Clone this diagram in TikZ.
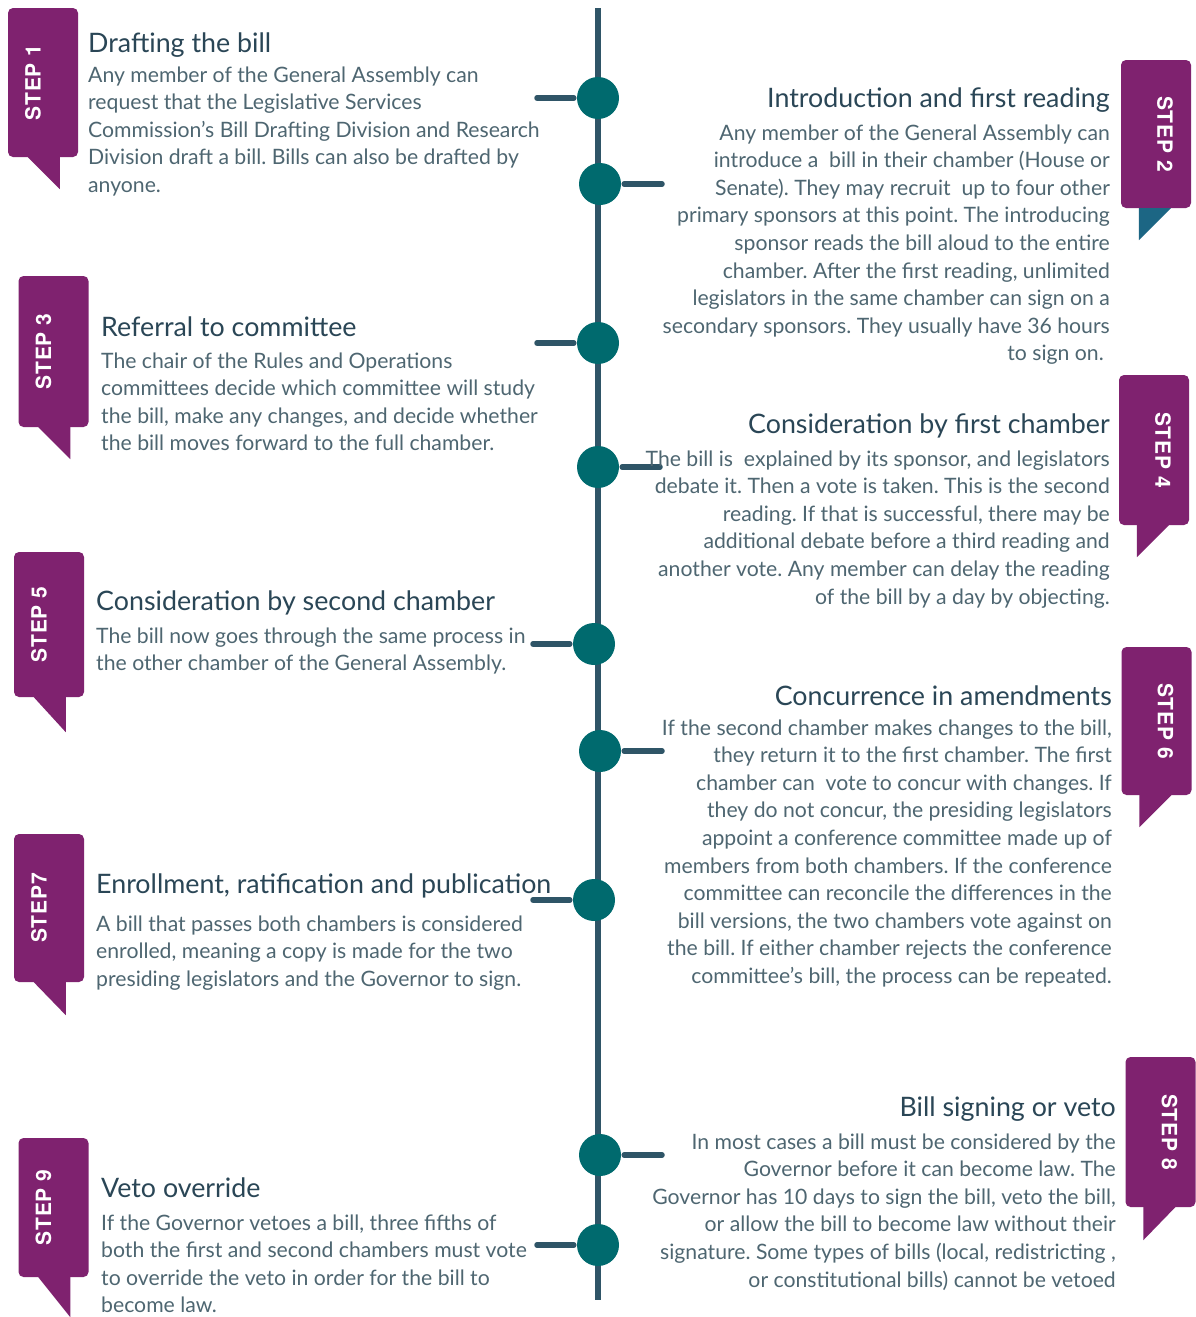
\documentclass[tikz,border=0pt]{standalone}
\usepackage{fontspec}
\setmainfont{Lato}
\newfontfamily\flagfont[LetterSpace=4]{TeX Gyre Heros}

\definecolor{flagpurple}{HTML}{7F226F}
\definecolor{flagteal}{HTML}{1C6684}
\definecolor{dotteal}{HTML}{006A6E}
\definecolor{spinecol}{HTML}{2F5567}
\definecolor{headcol}{HTML}{2A4656}
\definecolor{bodycol}{HTML}{4E6671}

\tikzset{
  stepflag/.style={fill=flagpurple, rounded corners=5pt, inner sep=0pt,
    minimum width=70pt},
  steplabel/.style={text=white, inner sep=0pt,
    font=\flagfont\bfseries\fontsize{21}{24}\selectfont},
  stepdot/.style={circle, fill=dotteal, minimum size=42pt, inner sep=0pt},
  stepstub/.style={spinecol, line width=5.5pt, line cap=round, shorten >=3pt},
  steptitle/.style={text=headcol, inner sep=0pt,
    font=\fontsize{26.8}{32}\selectfont},
  steptext/.style={text=bodycol, inner sep=0pt,
    font=\fontsize{21.2}{27.6}\selectfont\frenchspacing},
}

\begin{document}
\begin{tikzpicture}[x=1pt, y=-1pt]
    \fill [white] (0,0) rectangle (1195,1317);
    \useasboundingbox (0,0) rectangle (1195,1317);

    % time line
    \coordinate (top) at (598,8);
    \coordinate (bot) at (598,1300);
    \draw [spinecol, line width=6pt] (top) -- (bot);

    \node [stepdot] (c1) at (598,98) {};
    \node [stepdot] (c2) at (600,184) {};
    \node [stepdot] (c3) at (598,343) {};
    \node [stepdot] (c4) at (598,467) {};
    \node [stepdot] (c5) at (594,644) {};
    \node [stepdot] (c6) at (600,751) {};
    \node [stepdot] (c7) at (594,900) {};
    \node [stepdot] (c8) at (600,1155) {};
    \node [stepdot] (c9) at (598,1245) {};
    \coordinate (e1) at (537,98);
    \coordinate (e2) at (662,184);
    \coordinate (e3) at (537,343);
    \coordinate (e4) at (660,467);
    \coordinate (e5) at (533,644);
    \coordinate (e6) at (662,751);
    \coordinate (e7) at (533,900);
    \coordinate (e8) at (662,1155);
    \coordinate (e9) at (537,1245);
    \draw [stepstub] (e1) -- (c1);
    \draw [stepstub] (e2) -- (c2);
    \draw [stepstub] (e3) -- (c3);
    \draw [stepstub] (e4) -- (c4);
    \draw [stepstub] (e5) -- (c5);
    \draw [stepstub] (e6) -- (c6);
    \draw [stepstub] (e7) -- (c7);
    \draw [stepstub] (e8) -- (c8);
    \draw [stepstub] (e9) -- (c9);

    % flags, left side
    \node [stepflag, minimum height=149pt] (f1) at (43,82.5) {};
    \fill [flagpurple] ([xshift=20pt]f1.south west) -- ++(32,0) -- ++(0,32) -- cycle;
    \node [steplabel, rotate=90] (l1) at ([xshift=-10pt]f1.center) {STEP 1};

    \node [stepflag, minimum height=151pt] (f3) at (53.5,351.5) {};
    \fill [flagpurple] ([xshift=20pt]f3.south west) -- ++(32,0) -- ++(0,32) -- cycle;
    \node [steplabel, rotate=90] (l3) at ([xshift=-10pt]f3.center) {STEP 3};

    \node [stepflag, minimum height=145pt] (f5) at (49,624.5) {};
    \fill [flagpurple] ([xshift=20pt]f5.south west) -- ++(32,0) -- ++(0,35) -- cycle;
    \node [steplabel, rotate=90] (l5) at ([xshift=-10pt]f5.center) {STEP 5};

    \node [stepflag, minimum height=148pt] (f7) at (49,908) {};
    \fill [flagpurple] ([xshift=20pt]f7.south west) -- ++(32,0) -- ++(0,33) -- cycle;
    \node [steplabel, rotate=90] (l7) at ([xshift=-10pt]f7.center) {STEP7};

    \node [stepflag, minimum height=139pt] (f9) at (53.5,1207.5) {};
    \fill [flagpurple] ([xshift=20pt]f9.south west) -- ++(32,0) -- ++(0,40) -- cycle;
    \node [steplabel, rotate=90] (l9) at ([xshift=-10pt]f9.center) {STEP 9};

    % flags, right side
    \node [stepflag, minimum height=148pt] (f2) at (1156,134) {};
    \fill [flagteal] ([xshift=18pt]f2.south west) -- ++(32,0) -- ++(-32,32) -- cycle;
    \node [steplabel, rotate=-90] (l2) at ([xshift=9pt]f2.center) {STEP 2};

    \node [stepflag, minimum height=150pt] (f4) at (1154,450) {};
    \fill [flagpurple] ([xshift=18pt]f4.south west) -- ++(32,0) -- ++(-32,32) -- cycle;
    \node [steplabel, rotate=-90] (l4) at ([xshift=9pt]f4.center) {STEP 4};

    \node [stepflag, minimum height=148pt] (f6) at (1156.5,721) {};
    \fill [flagpurple] ([xshift=18pt]f6.south west) -- ++(32,0) -- ++(-32,32) -- cycle;
    \node [steplabel, rotate=-90] (l6) at ([xshift=9pt]f6.center) {STEP 6};

    \node [stepflag, minimum height=150pt] (f8) at (1160.5,1132) {};
    \fill [flagpurple] ([xshift=18pt]f8.south west) -- ++(32,0) -- ++(-32,33) -- cycle;
    \node [steplabel, rotate=-90] (l8) at ([xshift=9pt]f8.center) {STEP 8};

    % step 1
    \node [steptitle, anchor=base west] (t1) at (88,52) {Drafting the bill};
    \node [steptext, anchor=base west] (b1) at (88,82) {%
      \begin{tabular}[t]{@{}l@{}}
        Any member of the General Assembly can\\
        request that the Legislative Services\\
        Commission's Bill Drafting Division and Research\\
        Division draft a bill. Bills can also be drafted by\\
        anyone.
      \end{tabular}};

    % step 2
    \node [steptitle, anchor=base east] (t2) at (1110,107) {Introduction and first reading};
    \node [steptext, anchor=base east] (b2) at (1110,140) {%
      \begin{tabular}[t]{@{}r@{}}
        Any member of the General Assembly can\\
        introduce a\ \ bill in their chamber (House or\\
        Senate). They may recruit\ \ up to four other\\
        primary sponsors at this point. The introducing\\
        sponsor reads the bill aloud to the entire\\
        chamber. After the first reading, unlimited\\
        legislators in the same chamber can sign on a\\
        secondary sponsors. They usually have 36 hours\\
        to sign on.\hspace{6pt}
      \end{tabular}};

    % step 3
    \node [steptitle, anchor=base west] (t3) at (101,336) {Referral to committee};
    \node [steptext, anchor=base west] (b3) at (101,368) {%
      \begin{tabular}[t]{@{}l@{}}
        The chair of the Rules and Operations\\
        committees decide which committee will study\\
        the bill, make any changes, and decide whether\\
        the bill moves forward to the full chamber.
      \end{tabular}};

    % step 4
    \node [steptitle, anchor=base east] (t4) at (1110,433) {Consideration by first chamber};
    \node [steptext, anchor=base east] (b4) at (1110,466) {%
      \begin{tabular}[t]{@{}r@{}}
        The bill is\ \ explained by its sponsor, and legislators\\
        debate it. Then a vote is taken. This is the second\\
        reading. If that is successful, there may be\\
        additional debate before a third reading and\\
        another vote. Any member can delay the reading\\
        of the bill by a day by objecting.
      \end{tabular}};

    % step 5
    \node [steptitle, anchor=base west] (t5) at (96,610) {Consideration by second chamber};
    \node [steptext, anchor=base west] (b5) at (96,643) {%
      \begin{tabular}[t]{@{}l@{}}
        The bill now goes through the same process in\\
        the other chamber of the General Assembly.
      \end{tabular}};

    % step 6
    \node [steptitle, anchor=base east] (t6) at (1112,705) {Concurrence in amendments};
    \node [steptext, anchor=base east] (b6) at (1112,735) {%
      \begin{tabular}[t]{@{}r@{}}
        If the second chamber makes changes to the bill,\\
        they return it to the first chamber. The first\\
        chamber can\ \ vote to concur with changes. If\\
        they do not concur, the presiding legislators\\
        appoint a conference committee made up of\\
        members from both chambers. If the conference\\
        committee can reconcile the differences in the\\
        bill versions, the two chambers vote against on\\
        the bill. If either chamber rejects the conference\\
        committee's bill, the process can be repeated.
      \end{tabular}};

    % step 7
    \node [steptitle, anchor=base west] (t7) at (96,893) {Enrollment, ratification and publication};
    \node [steptext, anchor=base west] (b7) at (96,931) {%
      \begin{tabular}[t]{@{}l@{}}
        A bill that passes both chambers is considered\\
        enrolled, meaning a copy is made for the two\\
        presiding legislators and the Governor to sign.
      \end{tabular}};

    % step 8
    \node [steptitle, anchor=base east] (t8) at (1116,1116) {Bill signing or veto};
    \node [steptext, anchor=base east] (b8) at (1116,1149) {%
      \begin{tabular}[t]{@{}r@{}}
        In most cases a bill must be considered by the\\
        Governor before it can become law. The\\
        Governor has 10 days to sign the bill, veto the bill,\\
        or allow the bill to become law without their\\
        signature. Some types of bills (local, redistricting ,\\
        or constitutional bills) cannot be vetoed
      \end{tabular}};

    % step 9
    \node [steptitle, anchor=base west] (t9) at (101,1197) {Veto override};
    \node [steptext, anchor=base west] (b9) at (101,1230) {%
      \begin{tabular}[t]{@{}l@{}}
        If the Governor vetoes a bill, three fifths of\\
        both the first and second chambers must vote\\
        to override the veto in order for the bill to\\
        become law.
      \end{tabular}};
\end{tikzpicture}
\end{document}
